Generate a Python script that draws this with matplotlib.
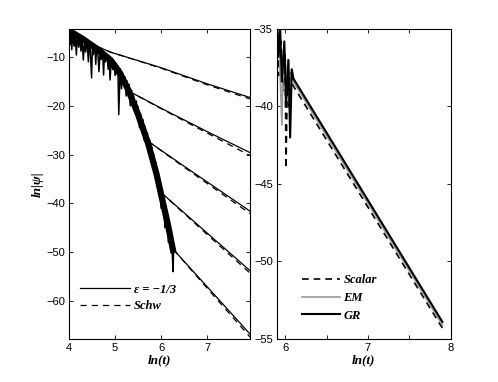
import matplotlib.pyplot as plt

# left panel: common ringing (zigzag)
ring_x = [4.00, 4.02, 4.04, 4.06, 4.08, 4.11, 4.13, 4.16, 4.18, 4.21, 4.23, 4.26,
          4.28, 4.31, 4.34, 4.36, 4.39, 4.42, 4.44, 4.46, 4.49, 4.51, 4.53, 4.56,
          4.58, 4.60, 4.62, 4.65, 4.68, 4.70, 4.73, 4.75, 4.77, 4.79, 4.82, 4.85,
          4.87, 4.89, 4.92, 4.95, 4.97, 5.00, 5.02, 5.04, 5.06, 5.08, 5.11, 5.14,
          5.16, 5.19, 5.21, 5.24, 5.26, 5.28, 5.30, 5.33, 5.36, 5.38, 5.40, 5.43,
          5.46, 5.48, 5.50, 5.53, 5.55, 5.58, 5.60, 5.63, 5.65, 5.68, 5.70, 5.73,
          5.75, 5.78, 5.80, 5.82, 5.84, 5.86, 5.88, 5.91, 5.93, 5.95, 5.97, 6.00,
          6.02, 6.04, 6.06, 6.08, 6.10, 6.12, 6.14, 6.16, 6.18, 6.20, 6.22, 6.24,
          6.26, 6.27]
ring_y = [-4.3, -7.5, -4.6, -8.5, -4.9, -7.8, -5.1, -9.6, -5.3, -8.0, -5.6, -8.8,
          -5.8, -10.6, -6.2, -9.0, -6.5, -11.0, -6.8, -8.5, -14.3, -7.2, -9.5, -7.4,
          -11.5, -7.7, -8.2, -13.0, -8.3, -10.5, -8.6, -13.7, -9.0, -11.0, -9.3, -12.5,
          -9.7, -14.7, -10.3, -12.6, -10.8, -13.8, -11.3, -13.5, -11.8, -21.8, -12.4, -16.5,
          -13.2, -15.8, -14.0, -18.0, -14.9, -17.2, -15.6, -20.0, -16.8, -19.5, -17.8, -21.5,
          -19.0, -21.0, -20.2, -24.5, -21.6, -23.8, -22.8, -27.0, -24.2, -26.5, -25.5, -29.5,
          -27.0, -29.8, -28.5, -32.5, -30.0, -32.4, -31.5, -36.0, -33.5, -35.5, -35.5, -41.0,
          -37.3, -40.5, -39.0, -45.0, -41.0, -44.0, -43.0, -48.0, -44.8, -47.5, -46.5, -50.0,
          -54.0, -49.5]
env_x = [4.00, 4.30, 4.60, 4.90, 5.10, 5.28, 5.50, 5.72, 5.90, 6.00, 6.15, 6.27]
env_y = [-4.6, -6.3, -8.3, -10.6, -13.2, -16.6, -21.8, -27.8, -34.0, -38.2, -44.5, -50.2]

# left panel: late-time tails, eps = -1/3 (solid) and Schw (dashed)
t1_x = [4.60, 4.90, 6.00, 7.00, 7.93]
t1_s = [-7.8, -9.0, -12.2, -15.5, -18.3]
t1_d = [-7.8, -9.0, -12.3, -15.7, -18.6]
t2_x = [5.28, 6.00, 7.00, 7.93]
t2_s = [-16.9, -20.5, -25.3, -29.6]
t2_d = [-16.9, -20.6, -25.6, -30.2]
t3_x = [5.72, 6.50, 7.93]
t3_s = [-27.3, -32.4, -41.6]
t3_d = [-27.3, -32.6, -42.1]
t4_x = [6.00, 7.00, 7.93]
t4_s = [-37.8, -46.1, -53.8]
t4_d = [-37.8, -46.4, -54.3]
t5_x = [6.27, 7.00, 7.93]
t5_s = [-49.5, -57.1, -66.8]
t5_d = [-49.5, -57.4, -67.4]

# right panel
scalar_x = [5.90, 5.92, 5.95, 5.97, 6.00, 6.01, 6.03, 6.05, 6.07, 6.09, 7.90]
scalar_y = [-35.5, -38.0, -35.8, -39.0, -36.5, -44.0, -37.2, -40.2, -37.8, -38.6, -54.3]
em_x = [5.90, 5.93, 5.96, 5.98, 6.01, 6.03, 6.05, 6.08, 6.10, 7.90]
em_y = [-36.0, -36.5, -41.2, -36.3, -38.5, -37.0, -39.8, -37.6, -38.4, -54.1]
gr_x = [5.90, 5.92, 5.94, 5.96, 5.99, 6.01, 6.04, 6.06, 6.08, 6.10, 7.90]
gr_y = [-34.0, -36.8, -35.0, -38.4, -35.8, -40.0, -37.0, -42.0, -37.6, -38.2, -53.9]

plt.rcParams['font.family'] = ['Liberation Sans', 'DejaVu Sans']
lab = dict(family='Liberation Serif', weight='bold', style='italic', size=9.5)

fig = plt.figure(figsize=(4.98, 3.82), dpi=100)
ax1 = fig.add_axes([0.1386, 0.1126, 0.3635, 0.8115])
ax2 = fig.add_axes([0.556, 0.1126, 0.349, 0.8115])

ax1.plot(ring_x, ring_y, color='black', lw=1.1)
ax1.plot(env_x, env_y, color='black', lw=4.5, solid_capstyle='butt')
tails = [(t1_x, t1_s, t1_d), (t2_x, t2_s, t2_d), (t3_x, t3_s, t3_d),
         (t4_x, t4_s, t4_d), (t5_x, t5_s, t5_d)]
for i, (tx, ts, td) in enumerate(tails):
    ax1.plot(tx, ts, color='black', lw=0.9, label='ε = −1/3' if i == 0 else None)
    ax1.plot(tx, td, color='black', lw=0.9, ls=(0, (5, 4)), label='Schw' if i == 0 else None)

ax1.set_xlim(4, 7.93)
ax1.set_ylim(-67.8, -4.26)
ax1.set_xticks([4, 5, 6, 7])
ax1.set_yticks([-60, -50, -40, -30, -20, -10])
ax1.set_xlabel('ln(t)', fontdict=lab, labelpad=1)
ax1.set_ylabel('ln|ψ|', fontdict=lab, labelpad=2)
ax1.legend(loc='lower left', bbox_to_anchor=(0.0, 0.05), frameon=False,
           handlelength=4.0, labelspacing=0.35, handletextpad=0.3,
           prop=dict(family='Liberation Serif', weight='bold', style='italic', size=9))

ax2.plot(scalar_x, scalar_y, color='black', lw=1.2, ls=(0, (4, 3)), label='Scalar')
ax2.plot(em_x, em_y, color='#999999', lw=1.2, label='EM')
ax2.plot(gr_x, gr_y, color='black', lw=1.5, label='GR')
ax2.set_xlim(5.9, 8)
ax2.set_ylim(-55, -35)
ax2.set_xticks([6, 6.5, 7, 7.5, 8])
ax2.set_xticklabels(['6', '', '7', '', '8'])
ax2.set_yticks([-55, -50, -45, -40, -35])
ax2.set_xlabel('ln(t)', fontdict=lab, labelpad=1)
ax2.legend(loc='lower left', bbox_to_anchor=(0.08, 0.02), frameon=False,
           handlelength=3.0, labelspacing=0.45, handletextpad=0.3,
           prop=dict(family='Liberation Serif', weight='bold', style='italic', size=9))

for ax in (ax1, ax2):
    ax.tick_params(direction='in', top=True, right=True, length=3, width=0.6,
                   labelsize=8, pad=3)
    for s in ax.spines.values():
        s.set_linewidth(0.8)

fig.savefig('out.png', dpi=100)
